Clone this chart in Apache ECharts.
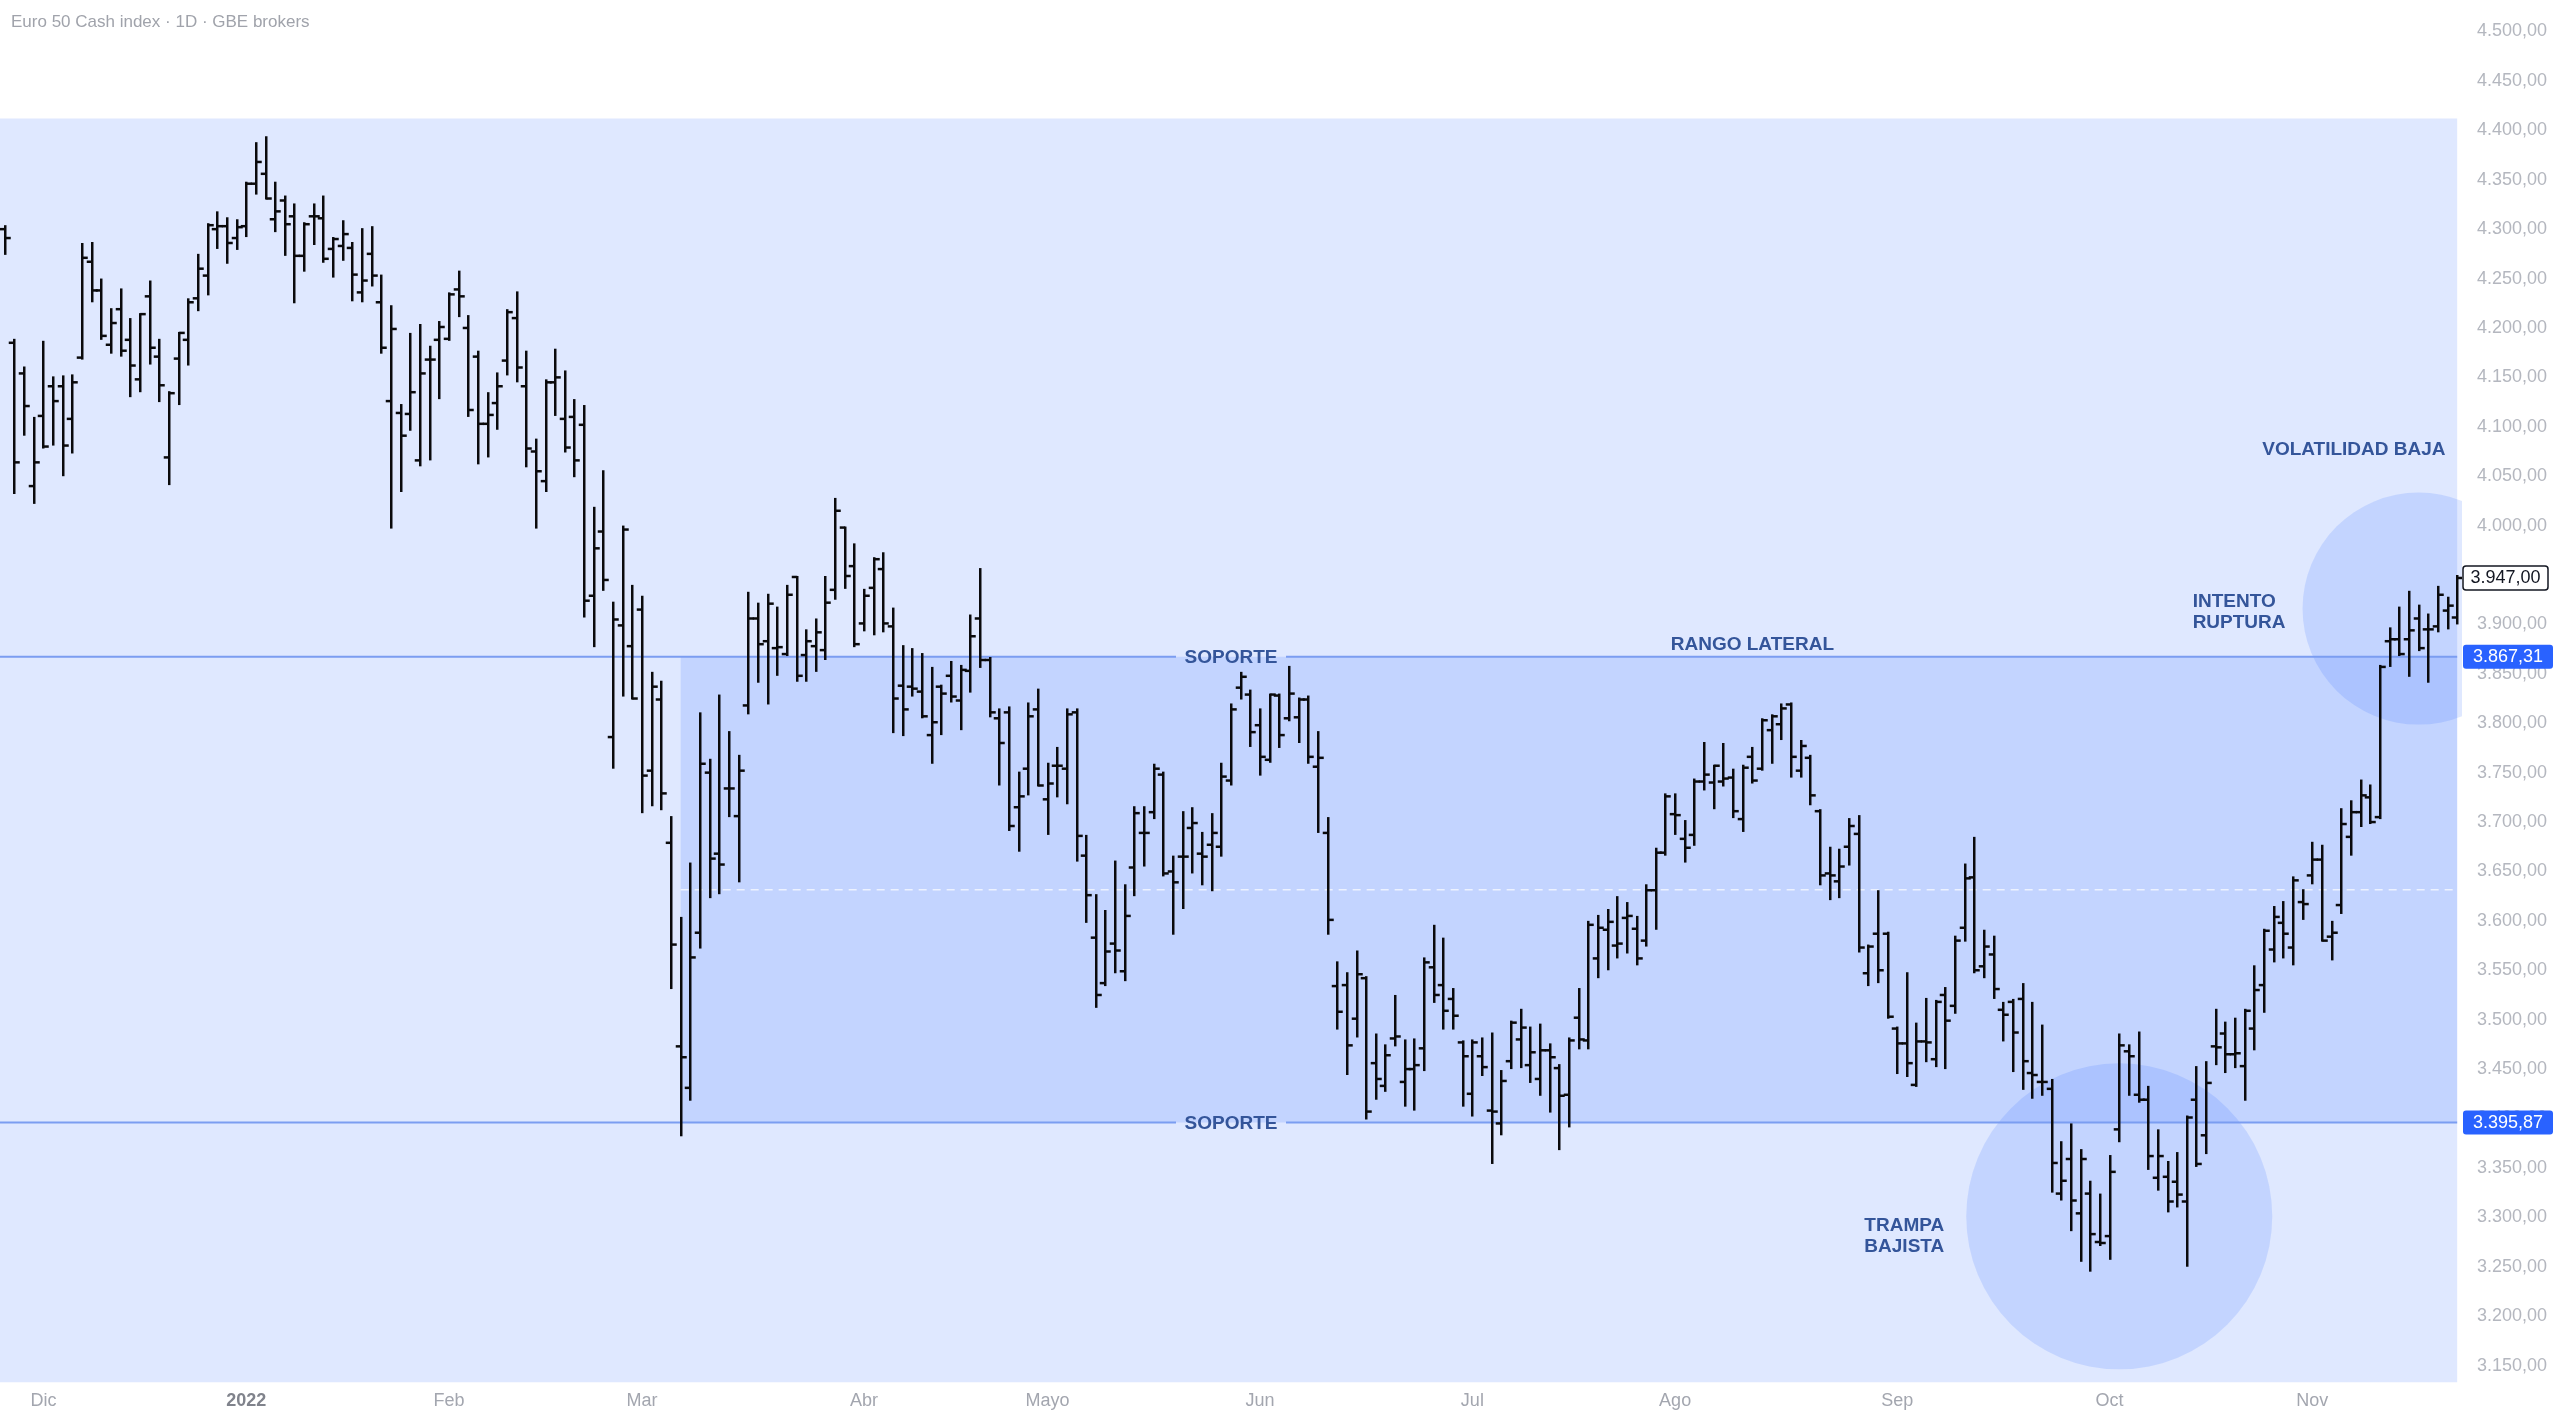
<!DOCTYPE html>
<html><head><meta charset="utf-8">
<script src="https://cdn.jsdelivr.net/npm/echarts@6/dist/echarts.min.js"></script>
<style>html,body{margin:0;padding:0;background:#fff}#c{width:2560px;height:1415px}</style>
</head><body><div id="c"></div>
<script>
// ---- data (OHLC, daily) ----
const open = [4300,4185,4154,4040,4111,4141,4141,4108,4170,4267,4238,4183,4219,4188,4148,4232,4171,4069,4169,4188,
4230,4253,4300,4303,4291,4303,4346,4356,4310,4329,4313,4273,4313,4311,4280,4283,4281,4236,4275,4226,
4126,4114,4113,4066,4168,4188,4189,4239,4200,4171,4103,4124,4167,4210,4141,4075,4045,4145,4108,4110,
4102,3929,3994,3786,3899,3878,3915,3752,3824,3679,3473,3431,3588,3750,3668,3734,3706,3818,3906,3883,
3876,3870,3948,3869,3878,3874,3935,3998,3959,3901,3937,3956,3898,3838,3837,3832,3788,3837,3848,3823,
3853,3906,3864,3805,3811,3715,3754,3814,3723,3757,3754,3811,3666,3583,3537,3577,3549,3654,3689,3710,
3748,3650,3665,3694,3668,3677,3675,3742,3836,3829,3798,3763,3828,3805,3806,3824,3756,3689,3534,3535,
3501,3542,3456,3433,3481,3437,3450,3471,3553,3535,3521,3477,3425,3463,3408,3395,3458,3480,3454,3440,
3469,3451,3424,3502,3479,3562,3591,3575,3603,3592,3580,3631,3669,3708,3683,3687,3741,3740,3741,3745,
3703,3766,3754,3793,3799,3819,3752,3765,3711,3648,3640,3675,3688,3547,3587,3587,3491,3476,3434,3478,
3460,3525,3514,3593,3644,3554,3566,3510,3518,3521,3446,3437,3430,3324,3359,3304,3324,3275,3281,3389,
3468,3424,3419,3340,3341,3336,3316,3419,3383,3473,3486,3465,3453,3491,3535,3571,3598,3573,3619,3646,
3662,3584,3616,3685,3710,3725,3705,3883,3885,3885,3906,3895,3898,3914,3907];
const high = [4303,4188,4160,4109,4186,4150,4151,4152,4285,4286,4249,4219,4239,4209,4214,4247,4188,4135,4195,4229,
4274,4305,4317,4311,4309,4347,4387,4393,4347,4333,4325,4306,4325,4333,4291,4308,4286,4300,4302,4253,
4222,4122,4194,4203,4181,4206,4235,4257,4212,4176,4134,4154,4218,4236,4176,4087,4147,4178,4156,4127,
4121,4018,4055,3922,3999,3939,3928,3851,3842,3705,3603,3658,3810,3763,3828,3791,3767,3932,3921,3930,
3917,3939,3948,3894,3905,3948,4027,3998,3981,3935,3967,3972,3916,3878,3875,3870,3856,3838,3862,3858,
3909,3956,3866,3814,3816,3750,3820,3834,3759,3775,3814,3814,3686,3626,3610,3660,3636,3715,3715,3758,
3750,3665,3710,3714,3689,3708,3759,3819,3851,3833,3814,3829,3829,3857,3825,3827,3791,3704,3558,3547,
3569,3543,3485,3474,3524,3479,3480,3562,3595,3582,3531,3478,3479,3481,3486,3448,3498,3510,3492,3495,
3475,3454,3481,3531,3599,3605,3611,3624,3618,3604,3636,3673,3728,3728,3701,3743,3780,3757,3779,3753,
3757,3775,3804,3808,3819,3820,3782,3767,3712,3674,3672,3703,3706,3575,3630,3588,3492,3547,3496,3521,
3519,3532,3584,3657,3684,3590,3584,3517,3520,3536,3517,3494,3439,3376,3394,3368,3336,3323,3362,3485,
3474,3487,3432,3388,3356,3365,3402,3452,3457,3510,3497,3501,3510,3554,3591,3614,3619,3644,3631,3679,
3676,3599,3713,3721,3742,3737,3858,3896,3917,3933,3919,3910,3938,3927,3949];
const low = [4275,4033,4092,4023,4079,4082,4051,4074,4169,4227,4189,4175,4172,4131,4136,4164,4126,4042,4123,4163,
4218,4234,4281,4266,4280,4293,4336,4331,4298,4274,4226,4258,4285,4267,4252,4269,4228,4227,4243,4175,
3998,4035,4097,4061,4067,4129,4188,4212,4111,4063,4070,4098,4153,4146,4060,3998,4035,4112,4075,4050,
3908,3878,3935,3755,3828,3825,3710,3717,3713,3532,3383,3419,3573,3624,3628,3706,3640,3810,3842,3820,
3849,3869,3843,3843,3853,3865,3926,3937,3878,3894,3890,3893,3791,3788,3828,3806,3760,3789,3822,3794,
3832,3857,3807,3738,3692,3671,3728,3737,3688,3726,3719,3661,3599,3513,3535,3548,3540,3626,3656,3704,
3646,3587,3613,3649,3637,3631,3666,3738,3825,3777,3748,3761,3776,3803,3781,3760,3690,3587,3491,3445,
3483,3400,3420,3428,3474,3413,3409,3449,3518,3491,3491,3413,3403,3444,3355,3384,3451,3452,3437,3424,
3407,3369,3392,3471,3471,3543,3551,3563,3568,3556,3575,3592,3667,3688,3660,3677,3733,3714,3737,3705,
3691,3740,3753,3760,3784,3746,3746,3718,3637,3622,3624,3657,3569,3535,3538,3502,3446,3443,3433,3458,
3453,3451,3507,3580,3548,3543,3522,3479,3448,3430,3421,3424,3326,3318,3287,3256,3246,3272,3258,3377,
3424,3417,3349,3328,3306,3311,3251,3352,3365,3455,3447,3452,3419,3470,3508,3559,3563,3556,3602,3638,
3580,3561,3608,3667,3696,3699,3704,3858,3869,3848,3874,3842,3893,3896,3901];
const close = [4291,4064,4121,4064,4080,4126,4081,4145,4271,4238,4192,4205,4177,4162,4214,4180,4142,4134,4195,4226,
4260,4304,4303,4286,4302,4346,4368,4331,4318,4305,4273,4305,4313,4270,4290,4295,4254,4248,4253,4180,
4199,4091,4135,4154,4168,4201,4234,4232,4117,4103,4112,4141,4216,4160,4078,4055,4145,4150,4079,4066,
3924,3977,3945,3905,3996,3825,3747,3837,3729,3576,3462,3563,3759,3663,3657,3734,3752,3906,3880,3921,
3877,3930,3848,3883,3892,3922,4015,3949,3880,3929,3966,3901,3825,3814,3835,3807,3801,3830,3827,3854,
3888,3864,3811,3780,3696,3726,3807,3737,3739,3757,3809,3686,3626,3525,3569,3570,3605,3709,3689,3754,
3648,3639,3665,3699,3665,3689,3746,3814,3847,3791,3766,3829,3788,3830,3824,3766,3765,3601,3508,3474,
3546,3407,3440,3464,3483,3450,3454,3558,3525,3509,3504,3463,3477,3452,3407,3438,3497,3492,3467,3469,
3462,3423,3479,3480,3596,3593,3599,3577,3605,3562,3631,3669,3726,3707,3674,3741,3748,3757,3744,3711,
3755,3742,3803,3807,3815,3766,3777,3727,3646,3646,3655,3696,3573,3574,3550,3503,3476,3456,3478,3477,
3518,3499,3580,3643,3550,3574,3531,3505,3487,3458,3444,3437,3355,3337,3317,3359,3283,3274,3346,3474,
3463,3419,3362,3362,3316,3323,3401,3354,3436,3472,3465,3466,3509,3530,3590,3604,3587,3641,3617,3662,
3580,3588,3698,3710,3727,3700,3857,3885,3870,3894,3876,3895,3930,3919,3947];

// ---- categories ----
const firstDate = '2021-11-25';
const holidays = ['2021-12-24','2021-12-31','2022-04-15','2022-04-18'];
const monthLabels = {'2021-12':'Dic','2022-01':'2022','2022-02':'Feb','2022-03':'Mar','2022-04':'Abr','2022-05':'Mayo',
  '2022-06':'Jun','2022-07':'Jul','2022-08':'Ago','2022-09':'Sep','2022-10':'Oct','2022-11':'Nov'};
const yTicks = [3150,3200,3250,3300,3350,3400,3450,3500,3550,3600,3650,3700,3750,3800,3850,3900,3950,4000,
  4050,4100,4150,4200,4250,4300,4350,4400,4450,4500];

// ---- annotation levels ----
const rangeTop = 3867.31, rangeBottom = 3395.87, lastPrice = 3947.00;
const bandTop = 4412, bandBottom = 3133;

const dates = [];
(function(){
  const d = new Date(firstDate + 'T00:00:00Z');
  while (dates.length < close.length) {
    const wd = d.getUTCDay(); const s = d.toISOString().slice(0,10);
    if (wd !== 0 && wd !== 6 && holidays.indexOf(s) < 0) dates.push(s);
    d.setUTCDate(d.getUTCDate() + 1);
  }
})();
const monthStart = new Set();
dates.forEach((s,i)=>{ if (i>0 && s.slice(0,7) !== dates[i-1].slice(0,7)) monthStart.add(i); });

function fmt(v){
  const s = Number(v).toFixed(2); const p = s.split('.');
  return p[0].replace(/\B(?=(\d{3})+(?!\d))/g,'.') + ',' + p[1];
}

const ohlc = close.map((c,i)=>[i, open[i], high[i], low[i], c]);
const FONT = '"Liberation Sans", Arial, sans-serif';
const TXT = '#34559a';
const FILL = 'rgba(41,98,255,0.15)';
const LINE = '#7b9df1';

const chart = echarts.init(document.getElementById('c'), null, {renderer:'canvas'});
chart.setOption({
  animation: false,
  backgroundColor: '#ffffff',
  title: { text: 'Euro 50 Cash index · 1D · GBE brokers', left: 6, top: 9,
    textStyle: { fontSize: 17, fontWeight: 'normal', color: '#a0a3ab', fontFamily: FONT } },
  grid: { left: 0, right: 98, top: 0, bottom: 30 },
  xAxis: {
    type: 'category', data: dates, boundaryGap: true,
    axisLine: {show:false}, axisTick: {show:false}, splitLine: {show:false},
    axisLabel: {
      interval: (i) => monthStart.has(i),
      formatter: (v) => { const l = monthLabels[String(v).slice(0,7)]; if (!l) return ''; return l === '2022' ? '{b|2022}' : l; },
      color: '#a3a6af', fontSize: 18, fontFamily: FONT, margin: 7, hideOverlap: false,
      rich: { b: { fontWeight: 'bold', color: '#80838c', fontSize: 18, fontFamily: FONT } }
    }
  },
  yAxis: {
    type: 'value', position: 'right', min: 3130.3, max: 4531.9, scale: true,
    axisLine: {show:false}, axisTick: {show:false}, splitLine: {show:false},
    axisLabel: { customValues: yTicks, formatter: fmt, color: '#b4b7bf', fontSize: 18, fontFamily: FONT, margin: 15, align: 'left' }
  },
  series: [
    { // drawn annotations (rectangles, circles, lines, texts)
      type: 'custom', z: 1, silent: true, clip: true,
      data: [[0, rangeTop]],
      renderItem: function(params, api){
        const cs = params.coordSys;
        const bw = api.size([1,0])[0];
        const x0 = api.coord([0, rangeTop])[0];
        const X = (idx) => x0 + idx*bw;
        const Y = (v) => api.coord([0, v])[1];
        const left = cs.x, right = X(254);
        const boxL = X(70);
        const gapC = X(127), gapH = 55;
        const mid = (rangeTop + rangeBottom)/2;
        const hl = (y, a, b) => ({type:'line', shape:{x1:a, y1:y, x2:b, y2:y}, style:{stroke: LINE, lineWidth: 2}});
        const txt = (text, x, y, align) => ({type:'text', style:{text, x, y, fill: TXT, font: 'bold 19px ' + FONT,
          align: align || 'center', verticalAlign: 'middle', lineHeight: 21}});
        return { type:'group', children: [
          {type:'rect', shape:{x:left, y:Y(bandTop), width:right-left, height:Y(bandBottom)-Y(bandTop)}, style:{fill:FILL}},
          {type:'rect', shape:{x:boxL, y:Y(rangeTop), width:right-boxL, height:Y(rangeBottom)-Y(rangeTop)}, style:{fill:FILL}},
          {type:'circle', shape:{cx:X(219), cy:Y(3301), r:153}, style:{fill:FILL}},
          {type:'circle', shape:{cx:X(250), cy:Y(3916), r:116}, style:{fill:FILL}},
          hl(Y(rangeTop), left, gapC-gapH), hl(Y(rangeTop), gapC+gapH, right),
          hl(Y(rangeBottom), left, gapC-gapH), hl(Y(rangeBottom), gapC+gapH, right),
          {type:'line', shape:{x1:boxL, y1:Y(mid), x2:right, y2:Y(mid)}, style:{stroke:'rgba(255,255,255,0.7)', lineWidth:1.5, lineDash:[8,6]}},
          txt('SOPORTE', gapC, Y(rangeTop)+1),
          txt('SOPORTE', gapC, Y(rangeBottom)+1),
          txt('RANGO LATERAL', X(181), Y(rangeTop)-12),
          txt('VOLATILIDAD BAJA', X(243.3), Y(4077)),
          txt('INTENTO\nRUPTURA', X(226.6), Y(3912.5), 'left'),
          txt('TRAMPA\nBAJISTA', X(192.6), Y(3280.6), 'left')
        ]};
      }
    },
    { // OHLC bars
      type: 'custom', z: 3, silent: true, clip: true,
      data: ohlc,
      encode: { x: 0, y: [1,2,3,4] },
      renderItem: function(params, api){
        const i = api.value(0);
        const pH = api.coord([i, api.value(2)]);
        const pL = api.coord([i, api.value(3)]);
        const pO = api.coord([i, api.value(1)]);
        const pC = api.coord([i, api.value(4)]);
        const x = Math.round(pH[0]) + 0.25;
        const st = {stroke:'#0a0a0c', lineWidth: 2.5};
        return { type:'group', children: [
          {type:'line', shape:{x1:x, y1:pH[1]-1, x2:x, y2:pL[1]+1}, style:st},
          {type:'line', shape:{x1:x-5.5, y1:pO[1], x2:x, y2:pO[1]}, style:st},
          {type:'line', shape:{x1:x, y1:pC[1], x2:x+5.5, y2:pC[1]}, style:st}
        ]};
      }
    },
    { // price labels on the axis
      type: 'custom', z: 5, silent: true, clip: false,
      data: [[0, lastPrice]],
      renderItem: function(params, api){
        const cs = params.coordSys;
        const xr = cs.x + cs.width + 1;
        const box = (v, w, fill, color, stroke) => {
          const y = api.coord([0, v])[1];
          return [
            {type:'rect', shape:{x:xr, y:y-12, width:w, height:24, r:3}, style:{fill, stroke: stroke || null, lineWidth: stroke ? 1.5 : 0}},
            {type:'text', style:{text: fmt(v), x: xr + w/2, y: y, fill: color, font: '18px ' + FONT, align:'center', verticalAlign:'middle'}}
          ];
        };
        return { type:'group', children: [].concat(
          box(rangeTop, 90, '#2962ff', '#ffffff'),
          box(rangeBottom, 90, '#2962ff', '#ffffff'),
          box(lastPrice, 85, '#ffffff', '#131722', '#131722')
        )};
      }
    }
  ]
});
</script></body></html>
